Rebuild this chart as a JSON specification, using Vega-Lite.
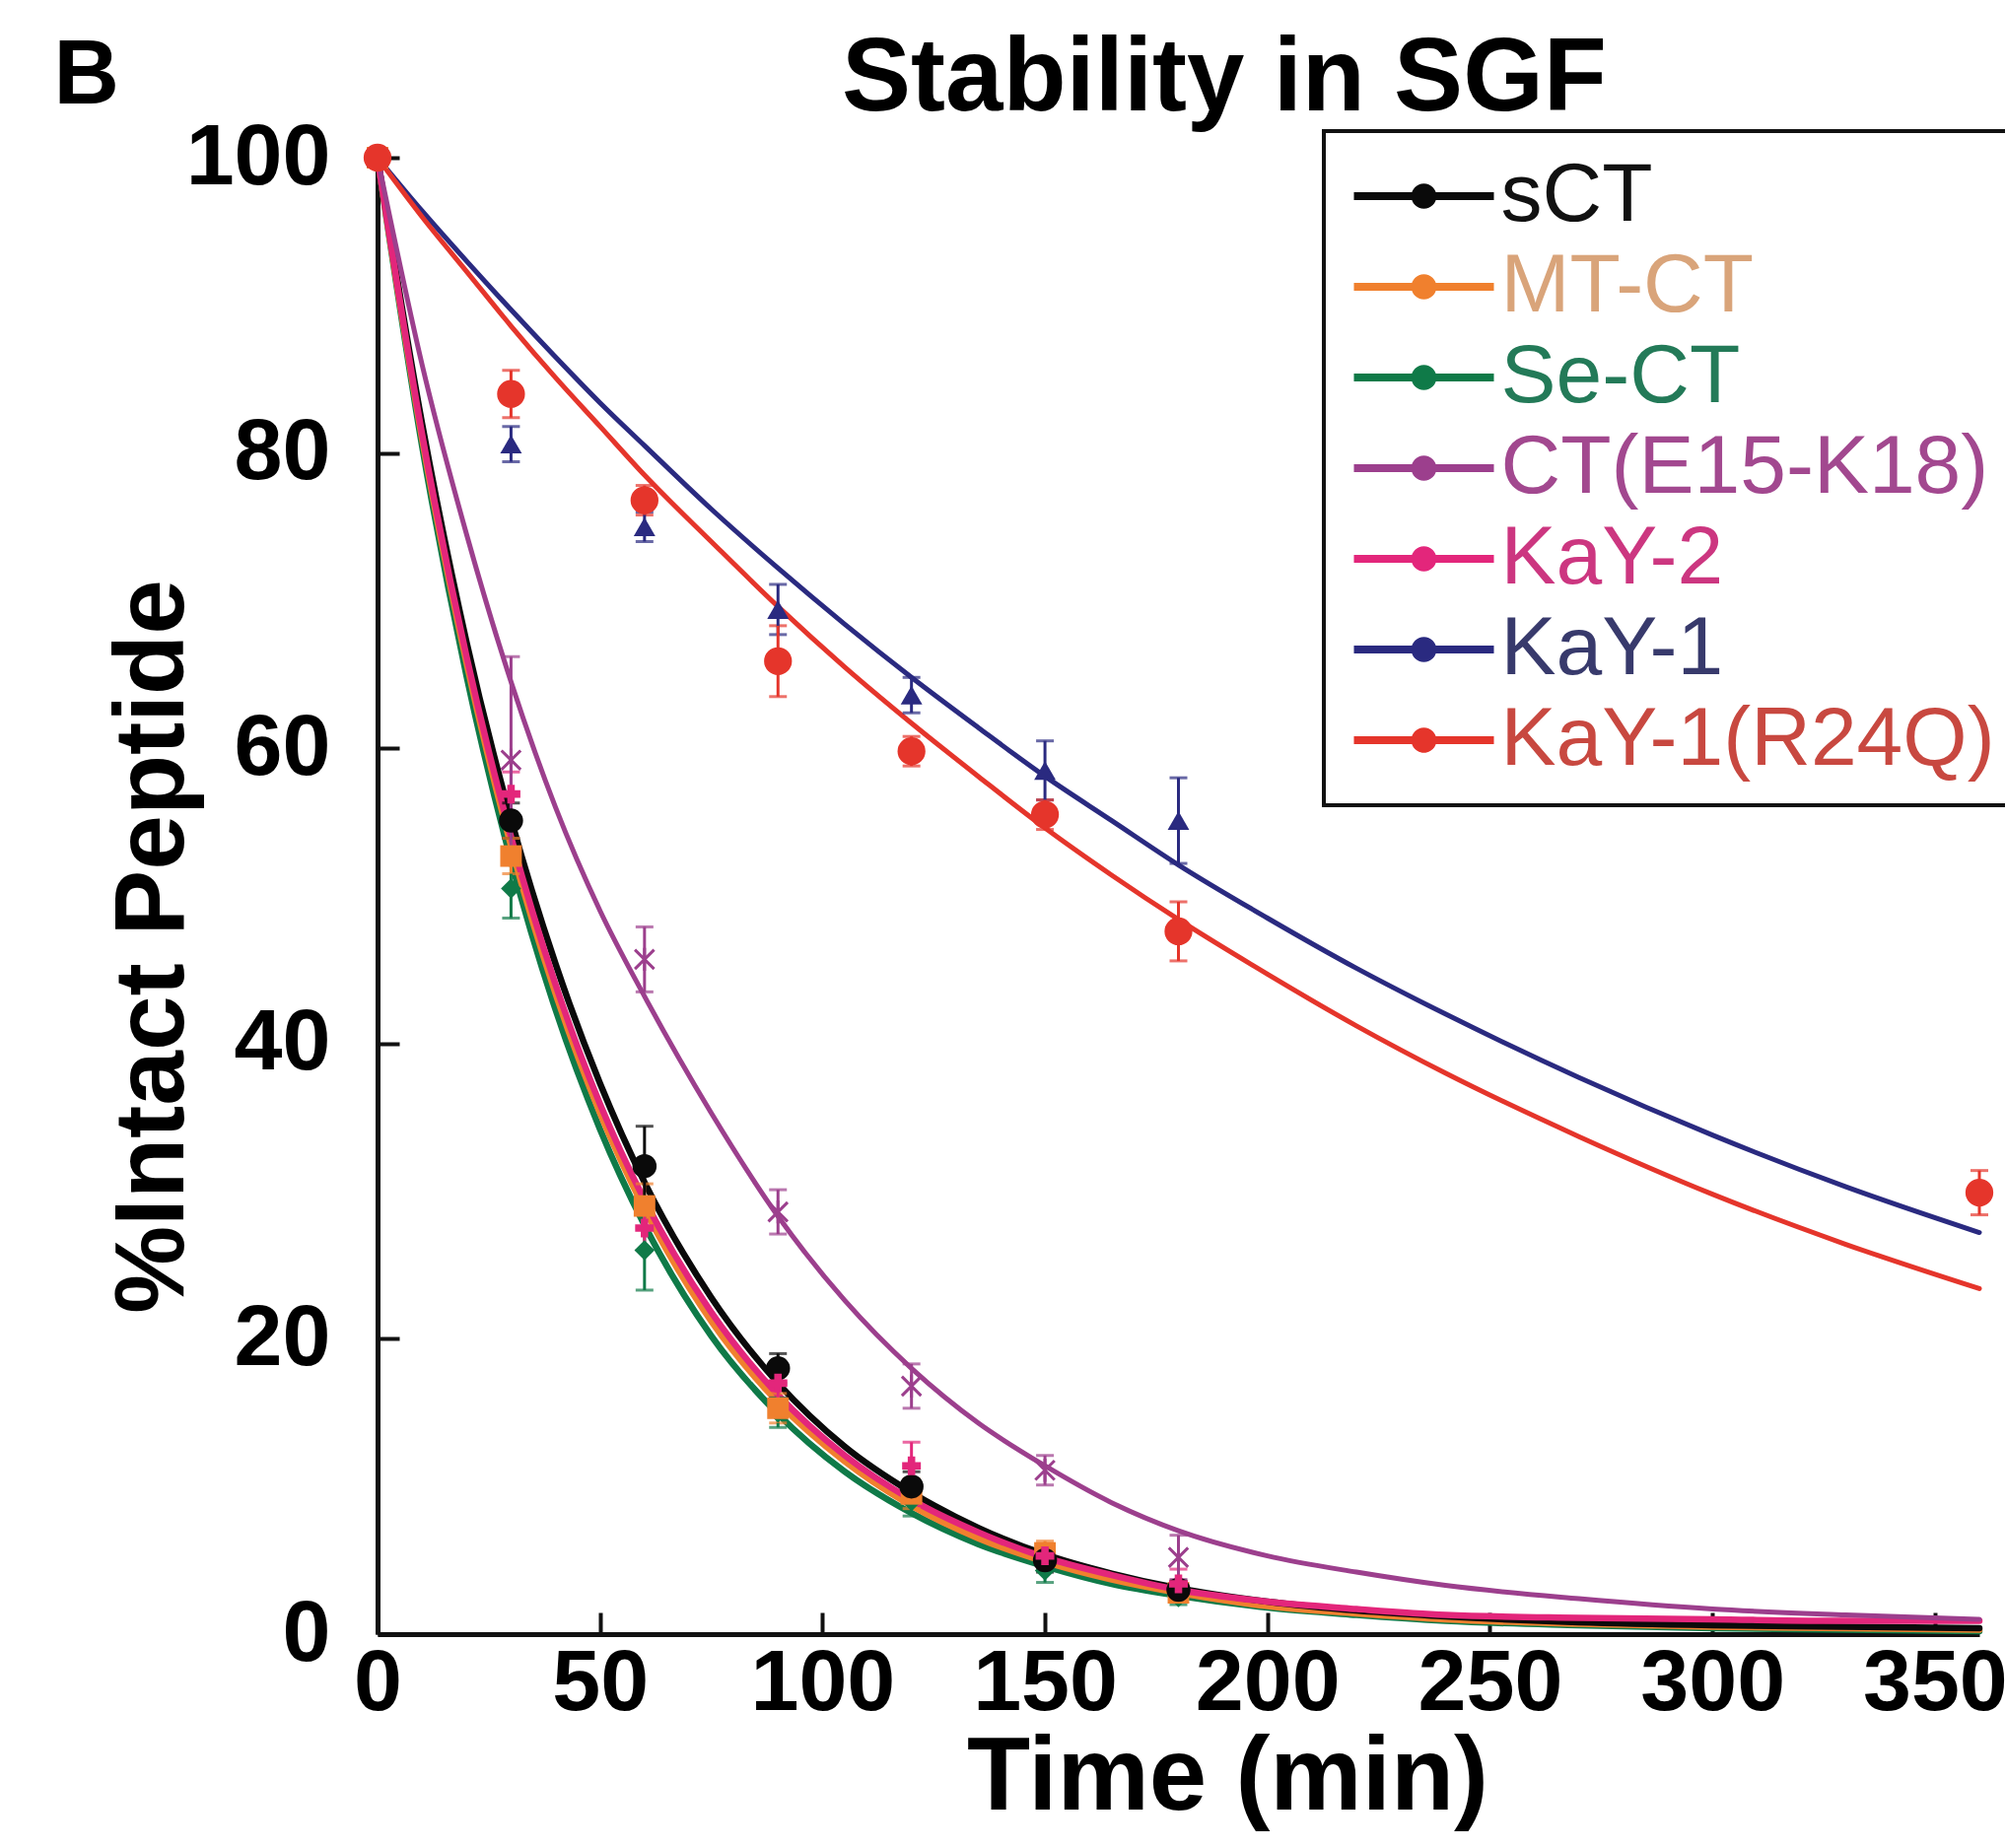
{
  "$schema": "https://vega.github.io/schema/vega-lite/v6.json",
  "width": 1625,
  "height": 1498,
  "autosize": {"type": "none"},
  "padding": {"left": 383, "top": 160, "right": 26, "bottom": 217},
  "background": "white",
  "config": {"view": {"stroke": null}, "font": "Liberation Sans"},
  "datasets": {
    "curves": [
      {"series":"Se-CT","t":0,"v":100},{"series":"Se-CT","t":10,"v":80.5},{"series":"Se-CT","t":20,"v":64.9},{"series":"Se-CT","t":30,"v":52.4},{"series":"Se-CT","t":40,"v":42.3},{"series":"Se-CT","t":50,"v":34.2},{"series":"Se-CT","t":60,"v":27.7},{"series":"Se-CT","t":75,"v":20.2},{"series":"Se-CT","t":90,"v":14.9},{"series":"Se-CT","t":105,"v":11.0},{"series":"Se-CT","t":120,"v":8.2},{"series":"Se-CT","t":135,"v":6.1},{"series":"Se-CT","t":150,"v":4.6},{"series":"Se-CT","t":165,"v":3.4},{"series":"Se-CT","t":180,"v":2.6},{"series":"Se-CT","t":200,"v":1.8},{"series":"Se-CT","t":220,"v":1.3},{"series":"Se-CT","t":240,"v":0.9},{"series":"Se-CT","t":270,"v":0.6},{"series":"Se-CT","t":300,"v":0.4},{"series":"Se-CT","t":330,"v":0.3},{"series":"Se-CT","t":360,"v":0.2},
      {"series":"MT-CT","t":0,"v":100},{"series":"MT-CT","t":10,"v":81.0},{"series":"MT-CT","t":20,"v":65.8},{"series":"MT-CT","t":30,"v":53.4},{"series":"MT-CT","t":40,"v":43.4},{"series":"MT-CT","t":50,"v":35.3},{"series":"MT-CT","t":60,"v":28.8},{"series":"MT-CT","t":75,"v":21.2},{"series":"MT-CT","t":90,"v":15.7},{"series":"MT-CT","t":105,"v":11.7},{"series":"MT-CT","t":120,"v":8.7},{"series":"MT-CT","t":135,"v":6.5},{"series":"MT-CT","t":150,"v":4.9},{"series":"MT-CT","t":165,"v":3.7},{"series":"MT-CT","t":180,"v":2.8},{"series":"MT-CT","t":200,"v":1.9},{"series":"MT-CT","t":220,"v":1.4},{"series":"MT-CT","t":240,"v":1.0},{"series":"MT-CT","t":270,"v":0.7},{"series":"MT-CT","t":300,"v":0.5},{"series":"MT-CT","t":330,"v":0.4},{"series":"MT-CT","t":360,"v":0.3},
      {"series":"sCT","t":0,"v":100},{"series":"sCT","t":10,"v":82.0},{"series":"sCT","t":20,"v":67.2},{"series":"sCT","t":30,"v":55.2},{"series":"sCT","t":40,"v":45.4},{"series":"sCT","t":50,"v":37.3},{"series":"sCT","t":60,"v":30.6},{"series":"sCT","t":75,"v":22.8},{"series":"sCT","t":90,"v":17.0},{"series":"sCT","t":105,"v":12.7},{"series":"sCT","t":120,"v":9.6},{"series":"sCT","t":135,"v":7.2},{"series":"sCT","t":150,"v":5.4},{"series":"sCT","t":165,"v":4.1},{"series":"sCT","t":180,"v":3.1},{"series":"sCT","t":200,"v":2.2},{"series":"sCT","t":220,"v":1.6},{"series":"sCT","t":240,"v":1.2},{"series":"sCT","t":270,"v":0.8},{"series":"sCT","t":300,"v":0.6},{"series":"sCT","t":330,"v":0.5},{"series":"sCT","t":360,"v":0.4},
      {"series":"KaY-2","t":0,"v":100},{"series":"KaY-2","t":10,"v":81.3},{"series":"KaY-2","t":20,"v":66.2},{"series":"KaY-2","t":30,"v":54.0},{"series":"KaY-2","t":40,"v":44.0},{"series":"KaY-2","t":50,"v":35.9},{"series":"KaY-2","t":60,"v":29.4},{"series":"KaY-2","t":75,"v":21.8},{"series":"KaY-2","t":90,"v":16.2},{"series":"KaY-2","t":105,"v":12.1},{"series":"KaY-2","t":120,"v":9.1},{"series":"KaY-2","t":135,"v":6.9},{"series":"KaY-2","t":150,"v":5.2},{"series":"KaY-2","t":165,"v":4.0},{"series":"KaY-2","t":180,"v":3.0},{"series":"KaY-2","t":200,"v":2.2},{"series":"KaY-2","t":220,"v":1.7},{"series":"KaY-2","t":240,"v":1.3},{"series":"KaY-2","t":270,"v":1.1},{"series":"KaY-2","t":300,"v":1.0},{"series":"KaY-2","t":330,"v":0.9},{"series":"KaY-2","t":360,"v":0.9},
      {"series":"CT(E15-K18)","t":0,"v":100},{"series":"CT(E15-K18)","t":10,"v":86.0},{"series":"CT(E15-K18)","t":20,"v":74.5},{"series":"CT(E15-K18)","t":30,"v":64.5},{"series":"CT(E15-K18)","t":40,"v":56.0},{"series":"CT(E15-K18)","t":50,"v":49.0},{"series":"CT(E15-K18)","t":60,"v":43.2},{"series":"CT(E15-K18)","t":75,"v":35.3},{"series":"CT(E15-K18)","t":90,"v":28.3},{"series":"CT(E15-K18)","t":105,"v":22.6},{"series":"CT(E15-K18)","t":120,"v":18.0},{"series":"CT(E15-K18)","t":135,"v":14.3},{"series":"CT(E15-K18)","t":150,"v":11.4},{"series":"CT(E15-K18)","t":165,"v":8.9},{"series":"CT(E15-K18)","t":180,"v":7.0},{"series":"CT(E15-K18)","t":200,"v":5.3},{"series":"CT(E15-K18)","t":220,"v":4.2},{"series":"CT(E15-K18)","t":240,"v":3.3},{"series":"CT(E15-K18)","t":270,"v":2.4},{"series":"CT(E15-K18)","t":300,"v":1.7},{"series":"CT(E15-K18)","t":330,"v":1.3},{"series":"CT(E15-K18)","t":360,"v":1.0},
      {"series":"KaY-1","t":0,"v":100},{"series":"KaY-1","t":10,"v":96.4},{"series":"KaY-1","t":20,"v":93.0},{"series":"KaY-1","t":30,"v":89.7},{"series":"KaY-1","t":40,"v":86.5},{"series":"KaY-1","t":50,"v":83.4},{"series":"KaY-1","t":60,"v":80.5},{"series":"KaY-1","t":75,"v":76.2},{"series":"KaY-1","t":90,"v":72.2},{"series":"KaY-1","t":105,"v":68.4},{"series":"KaY-1","t":120,"v":64.8},{"series":"KaY-1","t":135,"v":61.4},{"series":"KaY-1","t":150,"v":58.1},{"series":"KaY-1","t":165,"v":55.1},{"series":"KaY-1","t":180,"v":52.1},{"series":"KaY-1","t":200,"v":48.5},{"series":"KaY-1","t":220,"v":45.1},{"series":"KaY-1","t":240,"v":42.0},{"series":"KaY-1","t":270,"v":37.7},{"series":"KaY-1","t":300,"v":33.8},{"series":"KaY-1","t":330,"v":30.3},{"series":"KaY-1","t":360,"v":27.2},
      {"series":"KaY-1(R24Q)","t":0,"v":100},{"series":"KaY-1(R24Q)","t":10,"v":96.0},{"series":"KaY-1(R24Q)","t":20,"v":92.3},{"series":"KaY-1(R24Q)","t":30,"v":88.6},{"series":"KaY-1(R24Q)","t":40,"v":85.1},{"series":"KaY-1(R24Q)","t":50,"v":81.8},{"series":"KaY-1(R24Q)","t":60,"v":78.5},{"series":"KaY-1(R24Q)","t":75,"v":74.0},{"series":"KaY-1(R24Q)","t":90,"v":69.6},{"series":"KaY-1(R24Q)","t":105,"v":65.5},{"series":"KaY-1(R24Q)","t":120,"v":61.7},{"series":"KaY-1(R24Q)","t":135,"v":58.1},{"series":"KaY-1(R24Q)","t":150,"v":54.6},{"series":"KaY-1(R24Q)","t":165,"v":51.4},{"series":"KaY-1(R24Q)","t":180,"v":48.4},{"series":"KaY-1(R24Q)","t":200,"v":44.7},{"series":"KaY-1(R24Q)","t":220,"v":41.2},{"series":"KaY-1(R24Q)","t":240,"v":38.0},{"series":"KaY-1(R24Q)","t":270,"v":33.7},{"series":"KaY-1(R24Q)","t":300,"v":29.8},{"series":"KaY-1(R24Q)","t":330,"v":26.4},{"series":"KaY-1(R24Q)","t":360,"v":23.4}
    ],
    "points": [
      {"series":"Se-CT","t":0,"v":100,"lo":100,"hi":100},{"series":"Se-CT","t":30,"v":50.5,"lo":48.5,"hi":52.5},{"series":"Se-CT","t":60,"v":26.0,"lo":23.3,"hi":28.7},{"series":"Se-CT","t":90,"v":15.0,"lo":14.0,"hi":16.0},{"series":"Se-CT","t":120,"v":9.0,"lo":8.0,"hi":10.0},{"series":"Se-CT","t":150,"v":4.3,"lo":3.5,"hi":5.1},{"series":"Se-CT","t":180,"v":2.5,"lo":2.0,"hi":3.0},
      {"series":"MT-CT","t":0,"v":100,"lo":100,"hi":100},{"series":"MT-CT","t":30,"v":52.7,"lo":51.5,"hi":53.9},{"series":"MT-CT","t":60,"v":29.0,"lo":27.5,"hi":30.5},{"series":"MT-CT","t":90,"v":15.3,"lo":14.3,"hi":16.3},{"series":"MT-CT","t":120,"v":9.5,"lo":8.5,"hi":10.5},{"series":"MT-CT","t":150,"v":5.5,"lo":4.7,"hi":6.3},{"series":"MT-CT","t":180,"v":2.8,"lo":2.3,"hi":3.3},
      {"series":"sCT","t":0,"v":100,"lo":100,"hi":100},{"series":"sCT","t":30,"v":55.1,"lo":53.9,"hi":56.3},{"series":"sCT","t":60,"v":31.7,"lo":29.0,"hi":34.4},{"series":"sCT","t":90,"v":18.0,"lo":17.0,"hi":19.0},{"series":"sCT","t":120,"v":10.0,"lo":9.0,"hi":11.0},{"series":"sCT","t":150,"v":5.0,"lo":4.2,"hi":5.8},{"series":"sCT","t":180,"v":3.0,"lo":2.4,"hi":3.6},
      {"series":"KaY-2","t":0,"v":100,"lo":100,"hi":100},{"series":"KaY-2","t":30,"v":56.9,"lo":55.4,"hi":58.4},{"series":"KaY-2","t":60,"v":27.5,"lo":26.0,"hi":29.0},{"series":"KaY-2","t":90,"v":17.0,"lo":16.0,"hi":18.0},{"series":"KaY-2","t":120,"v":11.4,"lo":9.8,"hi":13.0},{"series":"KaY-2","t":150,"v":5.3,"lo":4.5,"hi":6.1},{"series":"KaY-2","t":180,"v":3.4,"lo":2.4,"hi":4.4},
      {"series":"CT(E15-K18)","t":0,"v":100,"lo":100,"hi":100},{"series":"CT(E15-K18)","t":30,"v":59.2,"lo":52.2,"hi":66.2},{"series":"CT(E15-K18)","t":60,"v":45.7,"lo":43.5,"hi":47.9},{"series":"CT(E15-K18)","t":90,"v":28.6,"lo":27.1,"hi":30.1},{"series":"CT(E15-K18)","t":120,"v":16.8,"lo":15.3,"hi":18.3},{"series":"CT(E15-K18)","t":150,"v":11.1,"lo":10.1,"hi":12.1},{"series":"CT(E15-K18)","t":180,"v":5.2,"lo":3.7,"hi":6.7},
      {"series":"KaY-1","t":0,"v":100,"lo":100,"hi":100},{"series":"KaY-1","t":30,"v":80.6,"lo":79.4,"hi":81.8},{"series":"KaY-1","t":60,"v":75.0,"lo":74.0,"hi":76.0},{"series":"KaY-1","t":90,"v":69.4,"lo":67.7,"hi":71.1},{"series":"KaY-1","t":120,"v":63.6,"lo":62.4,"hi":64.8},{"series":"KaY-1","t":150,"v":58.5,"lo":56.5,"hi":60.5},{"series":"KaY-1","t":180,"v":55.1,"lo":52.2,"hi":58.0},
      {"series":"KaY-1(R24Q)","t":0,"v":100,"lo":100,"hi":100},{"series":"KaY-1(R24Q)","t":30,"v":84.0,"lo":82.4,"hi":85.6},{"series":"KaY-1(R24Q)","t":60,"v":76.8,"lo":75.8,"hi":77.8},{"series":"KaY-1(R24Q)","t":90,"v":65.9,"lo":63.5,"hi":68.3},{"series":"KaY-1(R24Q)","t":120,"v":59.8,"lo":58.8,"hi":60.8},{"series":"KaY-1(R24Q)","t":150,"v":55.5,"lo":54.5,"hi":56.5},{"series":"KaY-1(R24Q)","t":180,"v":47.6,"lo":45.6,"hi":49.6},{"series":"KaY-1(R24Q)","t":360,"v":29.9,"lo":28.4,"hi":31.4}
    ]
  },
  "layer": [
    {
      "data": {"name": "curves"},
      "transform": [{"filter": {"field": "series", "oneOf": ["Se-CT", "MT-CT", "sCT", "KaY-2"]}}],
      "mark": {"type": "line", "interpolate": "monotone", "strokeWidth": 6.5, "strokeCap": "round", "strokeJoin": "round"},
      "encoding": {
        "x": {
          "field": "t", "type": "quantitative", "title": "Time (min)",
          "scale": {"domain": [0, 360], "nice": false, "zero": false},
          "axis": {
            "title": "Time (min)", "values": [0, 50, 100, 150, 200, 250, 300, 350],
            "grid": false, "tickSize": -22, "tickWidth": 4, "tickColor": "#111111",
            "domainWidth": 5, "domainColor": "#111111",
            "labelFont": "Liberation Sans", "labelFontSize": 88, "labelFontWeight": "bold", "labelColor": "#000000",
            "labelPadding": 28, "labelFlush": false, "labelOverlap": false,
            "titleFont": "Liberation Sans", "titleFontSize": 105, "titleFontWeight": "bold", "titleColor": "#000000",
            "titlePadding": 0, "titleX": 862
          }
        },
        "y": {
          "field": "v", "type": "quantitative", "title": "%Intact Peptide",
          "scale": {"domain": [0, 100], "nice": false, "zero": false},
          "axis": {
            "title": "%Intact Peptide", "values": [0, 20, 40, 60, 80, 100],
            "grid": false, "tickSize": -22, "tickWidth": 4, "tickColor": "#111111",
            "domainWidth": 5, "domainColor": "#111111",
            "labelFont": "Liberation Sans", "labelFontSize": 88, "labelFontWeight": "bold", "labelColor": "#000000",
            "labelPadding": 70, "labelFlush": false, "labelOverlap": false,
            "titleFont": "Liberation Sans", "titleFontSize": 100, "titleFontWeight": "bold", "titleColor": "#000000",
            "titlePadding": -18, "titleY": 800
          }
        },
        "color": {
          "field": "series", "type": "nominal",
          "scale": {
            "domain": ["sCT", "MT-CT", "Se-CT", "CT(E15-K18)", "KaY-2", "KaY-1", "KaY-1(R24Q)"],
            "range": ["#0a0a0a", "#f0802e", "#0f7a48", "#9c3f8d", "#e3267b", "#2a2a80", "#e5352b"]
          },
          "legend": {
            "title": null, "orient": "none", "legendX": 960, "legendY": -27,
            "padding": 24,
            "symbolType": "M-2,-0.112H2V0.112H-2Z M-0.36,0A0.36,0.36 0 1,1 0.36,0A0.36,0.36 0 1,1 -0.36,0Z",
            "symbolSize": 5041, "symbolStrokeWidth": 0, "symbolOpacity": 1, "symbolOffset": 35.5,
            "labelFont": "Liberation Sans", "labelFontSize": 84, "labelOffset": 36, "labelLimit": 0,
            "rowPadding": 8,
            "encode": {
              "legend": {"update": {
                "stroke": {"value": "#111111"},
                "strokeWidth": {"value": 4},
                "fill": {"value": "#ffffff"}
              }},
              "symbols": {"update": {
                "fill": {"signal": "scale('color', datum.value)"},
                "stroke": {"signal": "scale('color', datum.value)"}
              }},
              "labels": {"update": {
                "fill": {"signal": "datum.value === 'MT-CT' ? '#d9a47a' : datum.value === 'Se-CT' ? '#237a58' : datum.value === 'CT(E15-K18)' ? '#a2488f' : datum.value === 'KaY-2' ? '#cc3680' : datum.value === 'KaY-1' ? '#383a6c' : datum.value === 'KaY-1(R24Q)' ? '#c84840' : '#111111'"}
              }}
            }
          }
        }
      }
    },
    {
      "data": {"name": "curves"},
      "transform": [{"filter": {"field": "series", "oneOf": ["CT(E15-K18)", "KaY-1", "KaY-1(R24Q)"]}}],
      "mark": {"type": "line", "interpolate": "monotone", "strokeWidth": 5, "strokeCap": "round", "strokeJoin": "round"},
      "encoding": {
        "x": {"field": "t", "type": "quantitative", "title": "Time (min)"},
        "y": {"field": "v", "type": "quantitative", "title": "%Intact Peptide"},
        "color": {"field": "series", "type": "nominal"}
      }
    },
    {
      "data": {"name": "points"},
      "mark": {"type": "errorbar", "ticks": {"size": 18}, "thickness": 3},
      "encoding": {
        "x": {"field": "t", "type": "quantitative", "title": "Time (min)"},
        "y": {"field": "lo", "type": "quantitative", "title": "%Intact Peptide"},
        "y2": {"field": "hi"},
        "color": {"field": "series", "type": "nominal"}
      }
    },
    {
      "data": {"name": "points"},
      "transform": [{"filter": {"field": "series", "equal": "Se-CT"}}],
      "mark": {"type": "point", "shape": "diamond", "filled": true, "opacity": 1, "size": 420},
      "encoding": {
        "x": {"field": "t", "type": "quantitative", "title": "Time (min)"},
        "y": {"field": "v", "type": "quantitative", "title": "%Intact Peptide"},
        "color": {"field": "series", "type": "nominal"}
      }
    },
    {
      "data": {"name": "points"},
      "transform": [{"filter": {"field": "series", "equal": "MT-CT"}}],
      "mark": {"type": "point", "shape": "square", "filled": true, "opacity": 1, "size": 480},
      "encoding": {
        "x": {"field": "t", "type": "quantitative", "title": "Time (min)"},
        "y": {"field": "v", "type": "quantitative", "title": "%Intact Peptide"},
        "color": {"field": "series", "type": "nominal"}
      }
    },
    {
      "data": {"name": "points"},
      "transform": [{"filter": {"field": "series", "equal": "sCT"}}],
      "mark": {"type": "point", "shape": "circle", "filled": true, "opacity": 1, "size": 600},
      "encoding": {
        "x": {"field": "t", "type": "quantitative", "title": "Time (min)"},
        "y": {"field": "v", "type": "quantitative", "title": "%Intact Peptide"},
        "color": {"field": "series", "type": "nominal"}
      }
    },
    {
      "data": {"name": "points"},
      "transform": [{"filter": {"field": "series", "equal": "KaY-2"}}],
      "mark": {"type": "point", "shape": "cross", "filled": true, "opacity": 1, "size": 360},
      "encoding": {
        "x": {"field": "t", "type": "quantitative", "title": "Time (min)"},
        "y": {"field": "v", "type": "quantitative", "title": "%Intact Peptide"},
        "color": {"field": "series", "type": "nominal"}
      }
    },
    {
      "data": {"name": "points"},
      "transform": [{"filter": {"field": "series", "equal": "CT(E15-K18)"}}],
      "mark": {"type": "point", "shape": "M-1,-1L1,1M-1,1L1,-1M0,-1.2L0,1.2", "filled": false, "opacity": 1, "size": 380, "strokeWidth": 3},
      "encoding": {
        "x": {"field": "t", "type": "quantitative", "title": "Time (min)"},
        "y": {"field": "v", "type": "quantitative", "title": "%Intact Peptide"},
        "color": {"field": "series", "type": "nominal"}
      }
    },
    {
      "data": {"name": "points"},
      "transform": [{"filter": {"field": "series", "equal": "KaY-1"}}],
      "mark": {"type": "point", "shape": "triangle-up", "filled": true, "opacity": 1, "size": 480},
      "encoding": {
        "x": {"field": "t", "type": "quantitative", "title": "Time (min)"},
        "y": {"field": "v", "type": "quantitative", "title": "%Intact Peptide"},
        "color": {"field": "series", "type": "nominal"}
      }
    },
    {
      "data": {"name": "points"},
      "transform": [{"filter": {"field": "series", "equal": "KaY-1(R24Q)"}}],
      "mark": {"type": "point", "shape": "circle", "filled": true, "opacity": 1, "size": 800},
      "encoding": {
        "x": {"field": "t", "type": "quantitative", "title": "Time (min)"},
        "y": {"field": "v", "type": "quantitative", "title": "%Intact Peptide"},
        "color": {"field": "series", "type": "nominal"}
      }
    },
    {
      "data": {"values": [{"label": "B"}]},
      "mark": {"type": "text", "font": "Liberation Sans", "fontSize": 92, "fontWeight": "bold", "align": "center", "baseline": "alphabetic", "color": "#000000"},
      "encoding": {
        "x": {"datum": -65.4, "type": "quantitative", "title": "Time (min)"},
        "y": {"datum": 103.7, "type": "quantitative", "title": "%Intact Peptide"},
        "text": {"field": "label"}
      }
    },
    {
      "data": {"values": [{"label": "Stability in SGF"}]},
      "mark": {"type": "text", "font": "Liberation Sans", "fontSize": 105, "fontWeight": "bold", "align": "center", "baseline": "alphabetic", "color": "#000000"},
      "encoding": {
        "x": {"datum": 190.3, "type": "quantitative", "title": "Time (min)"},
        "y": {"datum": 103.2, "type": "quantitative", "title": "%Intact Peptide"},
        "text": {"field": "label"}
      }
    }
  ]
}
